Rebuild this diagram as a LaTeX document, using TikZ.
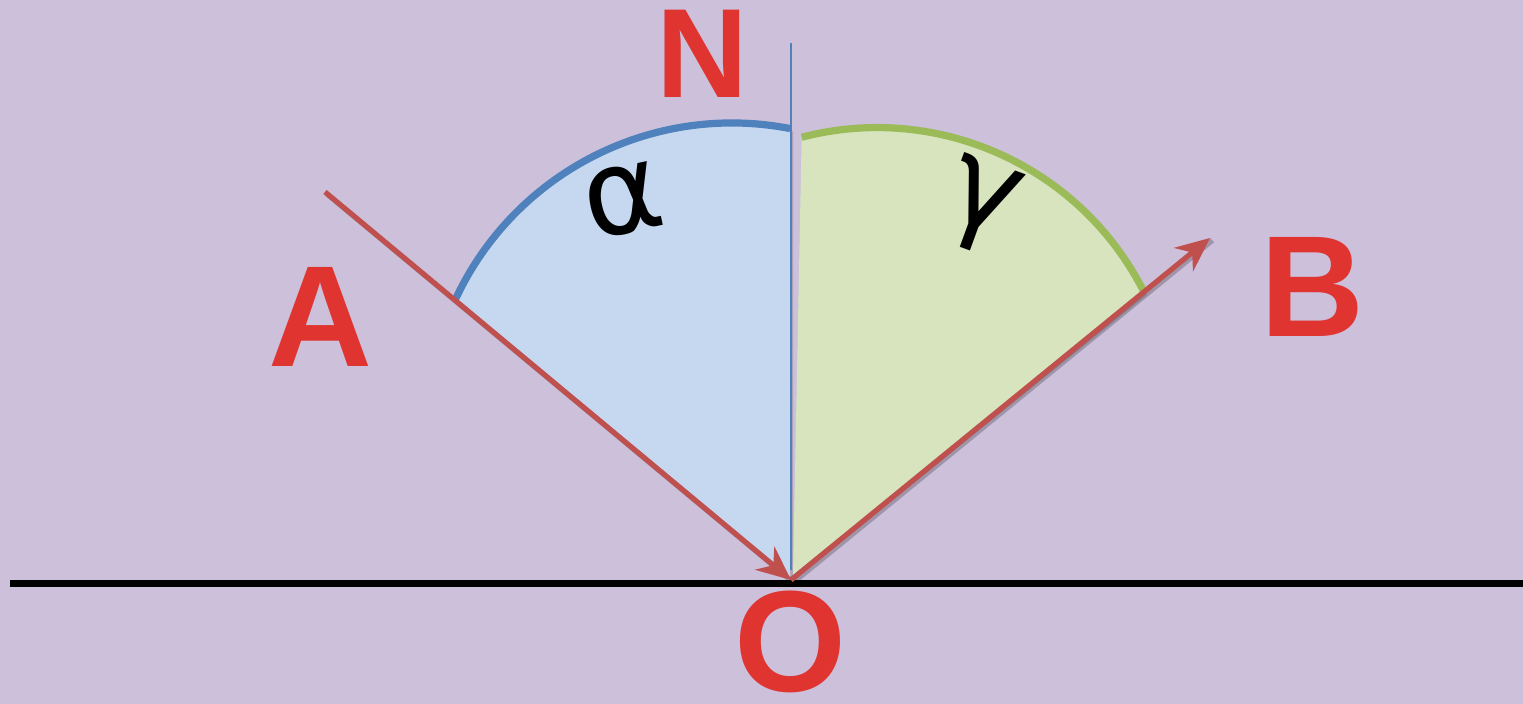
\documentclass[tikz,border=0pt]{standalone}
\usepackage{fontspec}
\setmainfont{Liberation Sans}
\newfontfamily\grkfont{DejaVu Sans}
\usetikzlibrary{arrows.meta}
\definecolor{bgc}{HTML}{CCC0DA}
\definecolor{labred}{HTML}{E03430}
\definecolor{rayred}{HTML}{C0504D}
\definecolor{bluearc}{HTML}{4F81BD}
\definecolor{bluefill}{HTML}{C5D8F0}
\definecolor{greenarc}{HTML}{9BBB59}
\definecolor{greenfill}{HTML}{D7E4BD}
\begin{document}
\begin{tikzpicture}[x=0.5pt,y=0.5pt,
  lbl/.style={text=labred, font=\fontsize{72}{72}\selectfont\bfseries, inner sep=0pt},
  greek/.style={text=black, font=\grkfont\fontsize{60}{60}\selectfont, inner sep=0pt},
  ray/.style={draw=rayred, line width=2.6pt},
  rayshadow/.style={draw=black, opacity=0.22, line width=2.6pt, transform canvas={xshift=1.2pt,yshift=-1.2pt}},
  tip/.style={-{Stealth[length=17pt,width=15pt,inset=5.5pt]}},
  sectshadow/.style={fill=black, opacity=0.15, transform canvas={xshift=1.5pt,yshift=-1.5pt}},
  arcline/.style={line width=3.6pt},
]
\fill[bgc] (0,0) rectangle (1523,704);
\useasboundingbox (0,0) rectangle (1523,704);

% named points
\coordinate (O) at (791,124);
\coordinate (A0) at (325,512);
\coordinate (Btip) at (1210,466);
\coordinate (Ntop) at (791,661);
\coordinate (Nbot) at (791,134);
\coordinate (L0) at (10,120.5);
\coordinate (L1) at (1523,120.5);

% sector shadows
\path[sectshadow] (790,127) -- ([shift={(732,276)}]155:305) arc[start angle=155,end angle=79,radius=305] -- cycle;
\path[sectshadow] (793,129) -- ([shift={(877,277.4)}]104.6:299) arc[start angle=104.6,end angle=26.8,radius=299] -- cycle;

% sectors
\fill[bluefill] (790,127) -- ([shift={(732,276)}]155:305) arc[start angle=155,end angle=79,radius=305] -- cycle;
\fill[greenfill] (793,129) -- ([shift={(877,277.4)}]104.6:299) arc[start angle=104.6,end angle=26.8,radius=299] -- cycle;

% arcs
\draw[bluearc, arcline] ([shift={(732,276)}]155:305) arc[start angle=155,end angle=79,radius=305];
\draw[greenarc, arcline] ([shift={(877,277.4)}]104.6:299) arc[start angle=104.6,end angle=26.8,radius=299];

% normal
\draw[bluearc, line width=1pt] (Ntop) -- (Nbot);

% mirror surface
\draw[black, line width=3.5pt] (L0) -- (L1);

% rays
\draw[rayshadow] (A0) -- (O);
\draw[rayshadow] (O) -- (Btip);
\draw[ray, tip] (A0) -- (O);
\draw[ray, tip] (O) -- (Btip);

% labels
\node[lbl, font=\fontsize{63.5}{64}\selectfont\bfseries] (N) at (702,650) {N};
\node[lbl] (A) at (320,387) {A};
\node[lbl] (B) at (1312,417) {B};
\node[lbl] (Olab) at (790,62) {O};
\node[greek, rotate=12] (alpha) at (623,504) {α};
\node[greek, rotate=-20] (gamma) at (981,497) {γ};
\end{tikzpicture}
\end{document}
